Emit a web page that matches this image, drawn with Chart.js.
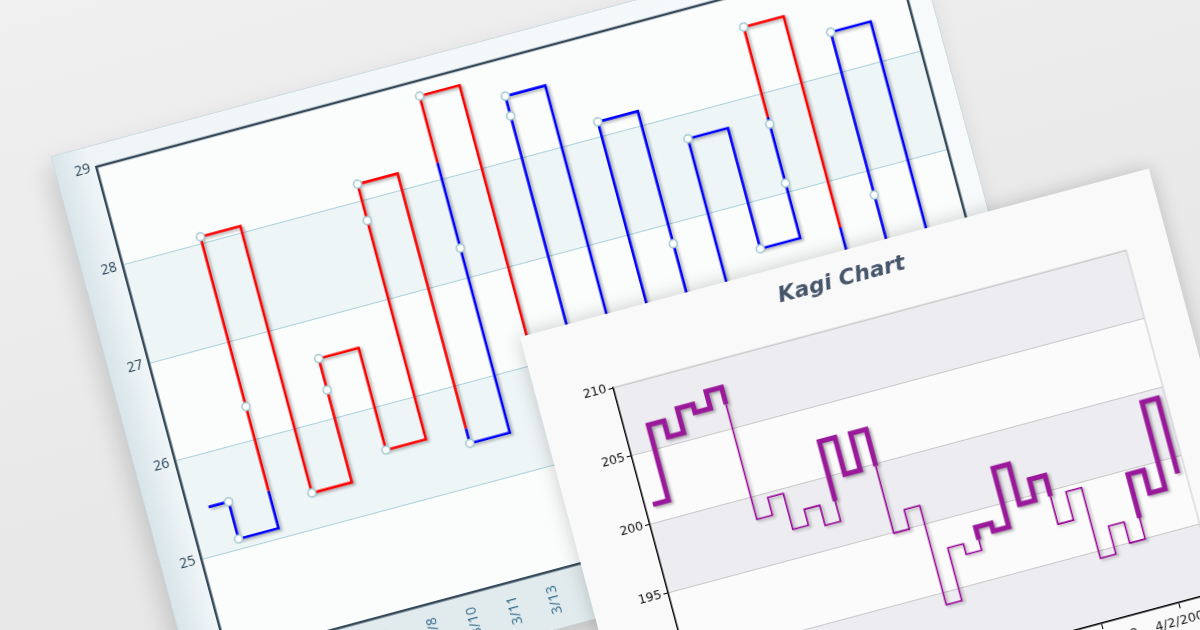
<!DOCTYPE html>
<html>
<head>
<meta charset="utf-8">
<title>Kagi Chart</title>
<script src="https://cdn.jsdelivr.net/npm/chart.js@4.4.1/dist/chart.umd.min.js"></script>
<style>
  html, body { margin: 0; padding: 0; }
  body {
    width: 1200px; height: 630px; overflow: hidden; position: relative;
    background: linear-gradient(165deg, #f0f0f0 0%, #e8e8e8 60%, #e6e6e6 100%);
  }
  .panel { position: absolute; transform-origin: 0 0; transform: rotate(-15deg); }
  .panel canvas { display: block; }
  #backPanel {
    left: 51.9px; top: 157.1px; width: 890px; height: 586px;
    background: linear-gradient(to right, #d8e5ea 0px, #eff5f7 36px, #f7fafb 100%);
    box-shadow: 0 0 0 1px #cddce1, -8px 10px 24px rgba(0, 0, 0, 0.16);
  }
  #frontPanel {
    left: 519.7px; top: 337.4px; width: 651px; height: 480px;
    background: #f9f9f9;
    box-shadow: 0 0 18px rgba(0, 0, 0, 0.2);
  }
</style>
</head>
<body>
<div class="panel" id="backPanel"><canvas id="backCanvas" width="890" height="586"></canvas></div>
<div class="panel" id="frontPanel"><canvas id="frontCanvas" width="651" height="480"></canvas></div>
<script>
// back chart: red / blue kagi, one reversal per column
const backX = [0.5, 1, 2, 3, 4, 5, 6, 7, 8, 9, 10, 11, 12, 13, 14, 15, 16, 17, 18, 19];
const backLevels = [25.48, 25.10, 28.07, 25.35, 26.61, 25.57, 28.17, 25.42, 28.85, 24.70,
                    28.63, 25.00, 28.15, 25.30, 27.76, 26.53, 28.68, 24.90, 28.41, 25.60];
// price points drawn as small circles
const backDotX = [1, 1, 2, 2, 3, 4, 4, 5, 6, 6, 7, 8, 8, 10, 10, 12, 13, 14, 15, 16, 16, 16, 18, 18];
const backDotY = [25.48, 25.10, 28.07, 26.34, 25.35, 26.61, 26.29, 25.57, 28.17, 27.80, 25.42, 28.85,
                  27.30, 28.63, 28.43, 28.15, 26.80, 27.76, 26.53, 28.68, 27.69, 27.09, 28.41, 26.75];
const backTickPos = [0, 1, 2, 3, 4, 5, 6, 7, 8, 9, 10, 11, 12, 13, 14, 15, 16, 17, 18, 19, 20];
const backDates = ['3/1', '3/3', '3/4', '3/6', '3/7', '3/8', '3/10', '3/11', '3/13', '3/14', '3/17',
                   '3/18', '3/19', '3/20', '3/24', '3/25', '3/26', '3/27', '3/28', '3/31', '4/1'];
const backYTicks = [24, 25, 26, 27, 28, 29];
const backBands = [[27, 28], [25, 26]];

// front chart: purple kagi, thick = yang, thin = yin
const frontX = [0, 1, 2, 3, 4, 5, 6, 7, 8, 9, 10, 11, 12, 13, 14, 15, 16,
                17, 18, 19, 20, 21, 22, 23, 24, 25, 26, 27, 28, 29, 30, 31, 32];
const frontLevels = [201.3, 206.8, 205.63, 207.4, 206.8, 208.04, 198.38, 199.67, 197.04, 198.2, 196.72,
                     202.55, 199.85, 202.53, 194.93, 196.35, 189.1, 192.95, 192.17, 193.84, 193.26,
                     197.55, 194.6, 196.13, 192.55, 194.62, 189.45, 191.5, 189.95, 194.68, 192.99,
                     199.33, 193.82];
const frontTickPos = [0, 5, 10, 15, 20, 25, 30];
const frontDates = ['2/20/2008', '2/27/2008', '3/5/2008', '3/12/2008', '3/19/2008', '3/26/2008', '4/2/2008'];
const frontYTicks = [185, 190, 195, 200, 205, 210];
const frontBands = [[205, 210], [195, 200], [185, 190]];

// walk the reversal levels and split verticals where the line
// breaks the previous shoulder (turns yang) or waist (turns yin)
function buildKagi(xs, levels, yangStart) {
  const pts = [{ x: xs[0], y: levels[0] }];
  const kinds = [];
  let yang = yangStart, hi = levels[0], lo = levels[0];
  for (let i = 1; i < levels.length; i++) {
    const x = xs[i], a = levels[i - 1], b = levels[i];
    pts.push({ x, y: a }); kinds.push(yang);
    if (b > a && !yang && b > hi) { pts.push({ x, y: hi }); kinds.push(yang); yang = true; }
    if (b < a && yang && b < lo) { pts.push({ x, y: lo }); kinds.push(yang); yang = false; }
    pts.push({ x, y: b }); kinds.push(yang);
    if (b > a) hi = b; else lo = b;
  }
  return { pts, kinds };
}

const shadowPlugin = {
  id: 'lineShadow',
  beforeDatasetDraw(chart, args) {
    const ds = chart.data.datasets[args.index];
    if (!ds.shadow) return;
    const c = chart.ctx;
    c.save();
    c.shadowColor = 'rgba(0,0,0,0.32)';
    c.shadowBlur = 3;
    c.shadowOffsetX = 2;
    c.shadowOffsetY = 2;
  },
  afterDatasetDraw(chart, args) {
    if (chart.data.datasets[args.index].shadow) chart.ctx.restore();
  }
};

function bandPlugin(id, bands, plotColor, bandColor, below, frame) {
  return {
    id,
    beforeDraw(chart) {
      const { ctx, chartArea: a, scales: { y } } = chart;
      ctx.save();
      if (below) {
        ctx.fillStyle = below;
        ctx.fillRect(0, a.bottom, chart.width, chart.height - a.bottom);
      }
      ctx.fillStyle = plotColor;
      ctx.fillRect(a.left, a.top, a.width, a.height);
      ctx.fillStyle = bandColor;
      bands.forEach(([lo, hi]) => {
        const t = y.getPixelForValue(hi), b = y.getPixelForValue(lo);
        ctx.fillRect(a.left, t, a.width, b - t);
      });
      ctx.restore();
    },
    afterDraw(chart) {
      const { ctx, chartArea: a } = chart;
      ctx.save();
      ctx.strokeStyle = frame.color;
      ctx.lineWidth = frame.width;
      ctx.beginPath();
      ctx.moveTo(a.left, a.top);
      ctx.lineTo(a.right, a.top);
      ctx.lineTo(a.right, a.bottom);
      ctx.stroke();
      ctx.restore();
    }
  };
}

const back = buildKagi(backX, backLevels, false);
const backDots = backDotX.map((x, i) => ({ x, y: backDotY[i] }));

new Chart(document.getElementById('backCanvas').getContext('2d'), {
  type: 'line',
  data: {
    datasets: [
      {
        data: backDots,
        showLine: false,
        pointRadius: 4,
        pointBackgroundColor: '#ffffff',
        pointBorderColor: '#9fc7d0',
        pointBorderWidth: 1.5,
        order: 0
      },
      {
        data: back.pts,
        shadow: true,
        borderWidth: 2.6,
        pointRadius: 0,
        tension: 0,
        borderJoinStyle: 'miter',
        borderColor: '#0000ff',
        segment: { borderColor: c => back.kinds[c.p0DataIndex] ? '#ff0000' : '#0000ff' },
        order: 1
      }
    ]
  },
  options: {
    responsive: false,
    animation: false,
    layout: { padding: { top: 21, right: 22, left: 0, bottom: 0 } },
    plugins: { legend: { display: false }, tooltip: { enabled: false } },
    scales: {
      x: {
        type: 'linear', min: 0, max: 20,
        afterFit(s) { s.height = 57; },
        afterBuildTicks(s) { s.ticks = backTickPos.map(v => ({ value: v })); },
        grid: { display: false },
        border: { display: true, color: '#34495a', width: 2.5 },
        ticks: {
          autoSkip: false, minRotation: 90, maxRotation: 90, padding: 6,
          color: '#2f6789', font: { family: 'Open Sans', size: 14 },
          callback: v => backDates[backTickPos.indexOf(v)]
        }
      },
      y: {
        min: 24, max: 29,
        afterFit(s) { s.width = 40; },
        afterBuildTicks(s) { s.ticks = backYTicks.map(v => ({ value: v })); },
        grid: { color: '#a9d2db', lineWidth: 1, drawTicks: false },
        border: { display: true, color: '#34495a', width: 2.5 },
        ticks: { padding: 6, color: '#263f52', font: { family: 'Open Sans', size: 14 } }
      }
    }
  },
  plugins: [shadowPlugin, bandPlugin('backBands', backBands, '#fbfcfc', '#eef5f6', '#e1ebee',
    { color: '#34495a', width: 2.5 })]
});

const front = buildKagi(frontX, frontLevels, true);

new Chart(document.getElementById('frontCanvas').getContext('2d'), {
  type: 'line',
  data: {
    datasets: [
      {
        data: front.pts,
        shadow: true,
        borderWidth: 1.6,
        pointRadius: 0,
        tension: 0,
        borderJoinStyle: 'miter',
        borderColor: '#990099',
        segment: {
          borderWidth: c => front.kinds[c.p0DataIndex] ? 5 : 1.6,
          borderColor: c => front.kinds[c.p0DataIndex] ? '#9a189a' : '#990099'
        }
      }
    ]
  },
  options: {
    responsive: false,
    animation: false,
    layout: { padding: 0 },
    plugins: {
      legend: { display: false },
      tooltip: { enabled: false },
      title: {
        display: true,
        text: 'Kagi Chart',
        color: '#46566a',
        padding: { top: 15, bottom: 31.6 },
        font: { family: 'DejaVu Sans', size: 22, weight: 'bold', style: 'italic', lineHeight: 1.2 }
      }
    },
    scales: {
      x: {
        type: 'linear', min: -0.5, max: 32.5,
        afterFit(s) { s.height = 53; },
        afterBuildTicks(s) { s.ticks = frontTickPos.map(v => ({ value: v })); },
        grid: { drawOnChartArea: false, drawTicks: true, tickLength: 6, tickColor: '#000000' },
        border: { display: true, color: '#000000', width: 1.5 },
        ticks: {
          autoSkip: false, maxRotation: 0, padding: 5,
          color: '#1a1a1a', font: { family: 'DejaVu Sans', size: 13 },
          callback: v => frontDates[frontTickPos.indexOf(v)]
        }
      },
      y: {
        min: 185, max: 210,
        afterFit(s) { s.width = 77; },
        afterBuildTicks(s) { s.ticks = frontYTicks.map(v => ({ value: v })); },
        grid: { color: '#c8c8c8', lineWidth: 1, drawTicks: true, tickLength: 5, tickColor: '#000000' },
        border: { display: true, color: '#000000', width: 1.5 },
        ticks: { padding: 2, color: '#111111', font: { family: 'DejaVu Sans', size: 12.5 } }
      },
      y2: {
        position: 'right', display: true,
        afterFit(s) { s.width = 43; },
        grid: { display: false },
        border: { display: false },
        ticks: { display: false }
      }
    }
  },
  plugins: [shadowPlugin, bandPlugin('frontBands', frontBands, '#fbfbfb', '#ededf1', null,
    { color: '#c9c9c9', width: 1 })]
});
</script>
</body>
</html>
